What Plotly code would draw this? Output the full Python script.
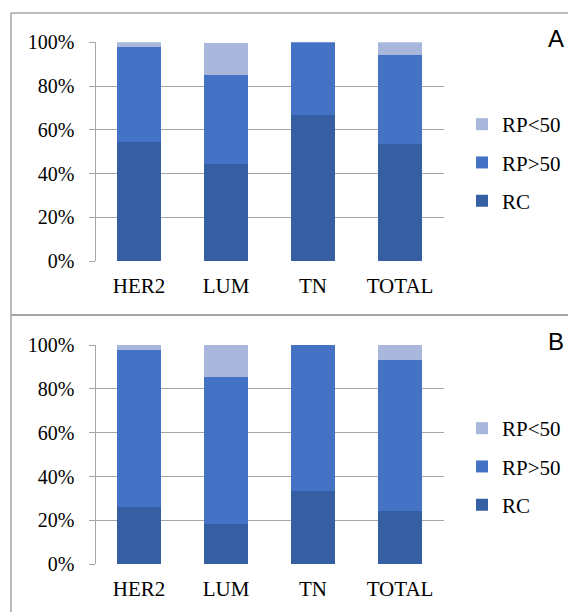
import plotly.graph_objects as go

categories = ["HER2", "LUM", "TN", "TOTAL"]
series_names = ["RC", "RP>50", "RP<50"]
colors = ["#365FA3", "#4472C4", "#A8B7DB"]

# Panel A values (%)
a_rc = [54.3, 44.4, 66.7, 53.3]
a_rp_gt50 = [43.5, 40.7, 33.3, 40.9]
a_rp_lt50 = [2.2, 14.8, 0.0, 5.8]

# Panel B values (%)
b_rc = [26.1, 18.5, 33.3, 24.3]
b_rp_gt50 = [71.7, 66.7, 66.7, 68.9]
b_rp_lt50 = [2.2, 14.8, 0.0, 6.8]

y_ticks = [0, 20, 40, 60, 80, 100]
y_tick_labels = ["0%", "20%", "40%", "60%", "80%", "100%"]
panel_labels = ["A", "B"]

# page has an 8px body margin; figure sized to fill the 576x612 window
OFF = 8
W, H = 576 - OFF, 612 - OFF
SERIF = "Liberation Serif"
SANS = "Liberation Sans"
GRID = "#A6A6A6"

def px(x):
    return (x - OFF) / W

def py(y):
    return 1 - (y - OFF) / H

fig = go.Figure()

panels = [
    ([a_rc, a_rp_gt50, a_rp_lt50], "x", "y", "legend", "a"),
    ([b_rc, b_rp_gt50, b_rp_lt50], "x2", "y2", "legend2", "b"),
]

for vals, xa, ya, leg, grp in panels:
    for i, (name, v) in enumerate(zip(series_names, vals)):
        fig.add_trace(go.Bar(
            x=categories, y=v, name=name, xaxis=xa, yaxis=ya,
            marker=dict(color=colors[i], line=dict(width=0)),
            legend=leg, legendgroup=grp + str(i), legendrank=10 - i,
            hoverinfo="skip",
        ))

xdom = [px(95.5), px(443.5)]
ydomA = [py(261), py(42.3)]
ydomB = [py(564.3), py(345)]

common_x = dict(
    type="category", range=[-0.5, 3.5], showgrid=False, showline=False,
    ticks="", tickfont=dict(family=SERIF, size=21, color="#000000"),
    ticklabelstandoff=10, zeroline=False, automargin=False,
)
common_y = dict(
    range=[0, 100], tickmode="array", tickvals=y_ticks, ticktext=y_tick_labels,
    showgrid=True, gridcolor=GRID, gridwidth=1,
    showline=True, linecolor=GRID, linewidth=1,
    ticks="outside", ticklen=6, tickcolor=GRID, tickwidth=1,
    tickfont=dict(family=SERIF, size=20, color="#000000"),
    zeroline=False, ticklabelstandoff=10, automargin=False,
)

legend_common = dict(
    xanchor="left", yanchor="top",
    traceorder="grouped", tracegroupgap=8,
    font=dict(family=SERIF, size=21, color="#000000"),
    bgcolor="rgba(0,0,0,0)", itemclick=False, itemdoubleclick=False,
)

fig.update_layout(
    width=W, height=H,
    margin=dict(l=0, r=0, t=0, b=0, pad=0, autoexpand=False),
    paper_bgcolor="white", plot_bgcolor="white",
    barmode="stack", bargap=0.49,
    showlegend=True,
    xaxis=dict(domain=xdom, anchor="y", **common_x),
    yaxis=dict(domain=ydomA, anchor="x", **common_y),
    xaxis2=dict(domain=xdom, anchor="y2", **common_x),
    yaxis2=dict(domain=ydomB, anchor="x2", **common_y),
    legend=dict(x=px(462), y=py(104), **legend_common),
    legend2=dict(x=px(462), y=py(408), **legend_common),
)

shapes = [
    dict(type="line", xref="paper", yref="paper", x0=px(11), x1=1, y0=py(13), y1=py(13),
         line=dict(color=GRID, width=1.5)),
    dict(type="line", xref="paper", yref="paper", x0=px(11), x1=px(11), y0=py(13), y1=0,
         line=dict(color=GRID, width=1.5)),
    dict(type="line", xref="paper", yref="paper", x0=px(11), x1=1, y0=py(315), y1=py(315),
         line=dict(color=GRID, width=2)),
]
fig.update_layout(shapes=shapes)

fig.add_annotation(text=panel_labels[0], xref="paper", yref="paper", x=px(556), y=py(38),
                   xanchor="center", yanchor="middle",
                   showarrow=False, font=dict(family=SANS, size=24, color="#000000"))
fig.add_annotation(text=panel_labels[1], xref="paper", yref="paper", x=px(556), y=py(341),
                   xanchor="center", yanchor="middle",
                   showarrow=False, font=dict(family=SANS, size=24, color="#000000"))

fig.write_html("out.html")
